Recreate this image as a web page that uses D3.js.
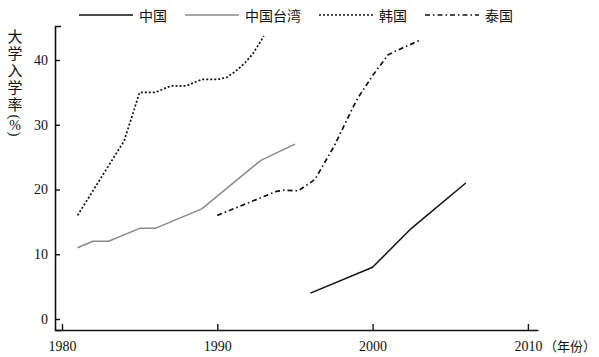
<!DOCTYPE html>
<html>
<head>
<meta charset="utf-8">
<script src="https://cdn.jsdelivr.net/npm/d3@7"></script>
<style>
  html, body { margin: 0; padding: 0; background: #fff; }
  svg { display: block; }
</style>
</head>
<body>
<script>
// ---- data ----
const seriesNames = ["中国", "中国台湾", "韩国", "泰国"];
const chinaData = [[1996, 4], [2000, 8], [2002.5, 14], [2006, 21]];
const taiwanData = [[1981, 11], [1982, 12], [1983, 12], [1985, 14], [1986, 14], [1989, 17], [1992.8, 24.5], [1995, 27]];
const koreaData = [[1981, 16], [1984, 27.5], [1985, 35], [1986, 35], [1987, 36], [1988, 36], [1989, 37], [1990, 37], [1990.6, 37.3], [1991.2, 38.3], [1991.8, 39.6], [1992.3, 41], [1993, 43.7]];
const thailandData = [[1990, 16], [1993.8, 19.7], [1994.3, 19.9], [1995.2, 19.8], [1995.9, 20.9], [1996.3, 21.6], [1997.5, 26.6], [1998.8, 33], [1999.1, 34.3], [2000, 37.6], [2001, 40.8], [2001.5, 41.4], [2003, 43]];
const xTicks = [1980, 1990, 2000, 2010];
const yTicks = [0, 10, 20, 30, 40];
const yTitle = "大学入学率";
const yUnit = ["(", "%", ")"];
const xUnit = "（年份）";

const W = 599, H = 357;
const svg = d3.select("body").append("svg").attr("width", W).attr("height", H);

const x = d3.scaleLinear().domain([1979.55, 2010.65]).range([55, 538]);
const y = d3.scaleLinear().domain([-1.7, 45.25]).range([330, 26]);

const numFont = "'Liberation Serif', 'DejaVu Serif', serif";
const cjkFont = "'Noto Sans CJK SC', sans-serif";

// axes
const yAxis = svg.append("g").attr("transform", `translate(${x.range()[0]},0)`)
  .call(d3.axisLeft(y).tickValues(yTicks).tickSizeInner(-5).tickSizeOuter(-6).tickPadding(7));
const xAxis = svg.append("g").attr("transform", `translate(0,${y.range()[0]})`)
  .call(d3.axisBottom(x).tickValues(xTicks).tickFormat(d3.format("d")).tickSizeInner(-6).tickSizeOuter(0).tickPadding(11));
[yAxis, xAxis].forEach(g => {
  g.selectAll("path.domain").attr("stroke", "#111").attr("stroke-width", 1.6);
  g.selectAll(".tick line").attr("stroke", "#111").attr("stroke-width", 1.4);
  g.selectAll("text").attr("font-family", numFont).attr("font-size", 14).attr("fill", "#111");
});

// x unit label after last tick
const lastTick = xTicks[xTicks.length - 1];
svg.append("text")
  .attr("x", x(lastTick) + 16).attr("y", y.range()[0] + 21)
  .attr("font-family", cjkFont).attr("font-size", 13).attr("fill", "#111")
  .text(xUnit);

// y title (vertical)
svg.append("text")
  .attr("x", 15).attr("y", 29)
  .attr("font-family", cjkFont).attr("font-size", 15).attr("fill", "#111")
  .style("writing-mode", "vertical-rl").style("text-orientation", "upright")
  .attr("letter-spacing", 2)
  .text(yTitle);
// unit: vertical parentheses with upright percent sign
const unitPos = [117, 125.5, 134];
yUnit.forEach((ch, i) => {
  const rot = (ch === "%") ? 0 : 90;
  svg.append("text")
    .attr("transform", `translate(15,${unitPos[i]}) rotate(${rot})`)
    .attr("text-anchor", "middle").attr("dominant-baseline", "central")
    .attr("font-family", numFont).attr("font-size", ch === "%" ? 14 : 15).attr("fill", "#111")
    .text(ch);
});

// series
const series = [
  { name: seriesNames[0], data: chinaData, color: "#111", dash: null, width: 1.5 },
  { name: seriesNames[1], data: taiwanData, color: "#8a8a8a", dash: null, width: 1.5 },
  { name: seriesNames[2], data: koreaData, color: "#111", dash: "2,2", width: 1.7 },
  { name: seriesNames[3], data: thailandData, color: "#111", dash: "5,3,1.5,3", width: 1.7 }
];

series.forEach(s => {
  const line = d3.line().x(d => x(d[0])).y(d => y(d[1]));
  svg.append("path").datum(s.data)
    .attr("d", line).attr("fill", "none")
    .attr("stroke", s.color).attr("stroke-width", s.width)
    .attr("stroke-linejoin", "round")
    .attr("stroke-dasharray", s.dash);
});

// legend
const legend = svg.append("g");
let lx = 79;
const ly = 15;
series.forEach(s => {
  legend.append("line").attr("x1", lx).attr("x2", lx + 54).attr("y1", ly).attr("y2", ly)
    .attr("stroke", s.color).attr("stroke-width", s.width).attr("stroke-dasharray", s.dash);
  const t = legend.append("text").attr("x", lx + 60).attr("y", ly)
    .attr("dominant-baseline", "central")
    .attr("font-family", cjkFont).attr("font-size", 14).attr("fill", "#111")
    .text(s.name);
  lx = lx + 60 + t.node().getComputedTextLength() + 18;
});
</script>
</body>
</html>
